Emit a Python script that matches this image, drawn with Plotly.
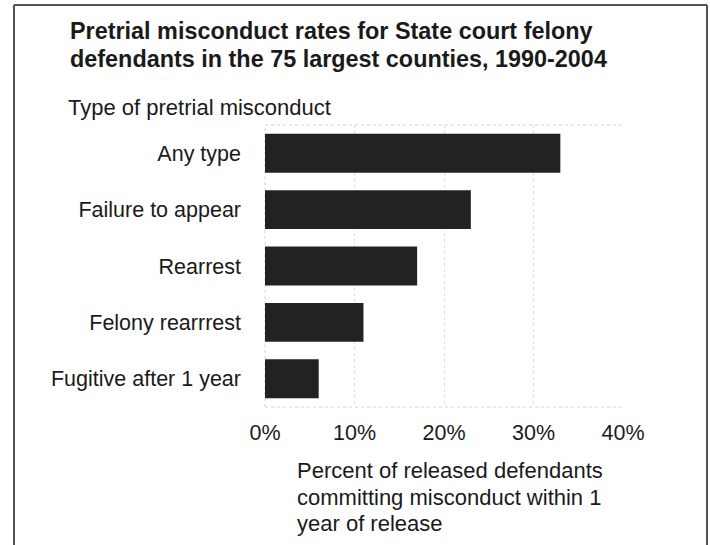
import plotly.graph_objects as go

categories = ["Any type", "Failure to appear", "Rearrest", "Felony rearrrest", "Fugitive after 1 year"]
values = [33, 23, 17, 11, 6]
tick_vals = [0, 10, 20, 30, 40]
tick_text = ["0%", "10%", "20%", "30%", "40%"]

# pixel layout helpers
W, H = 710, 545
L, R, T, B = 265, 623, 125, 407
def px(x):
    return (x - L) / (R - L)
def py(y):
    return (B - y) / (B - T)

FONT = "Liberation Sans, Arial, sans-serif"
TXT = "#1a1a1a"

fig = go.Figure(go.Bar(
    x=values, y=categories, orientation="h",
    marker=dict(color="#222222", line=dict(width=0)),
    width=0.69,
))

frame = dict(color="#555555", width=2)
dot = dict(color="#d4d4d4", width=1, dash="dot")
shapes = [
    # outer frame (left, top, right)
    dict(type="line", xref="paper", yref="paper", x0=px(14), x1=px(14), y0=py(560), y1=py(5), line=frame, layer="above"),
    dict(type="line", xref="paper", yref="paper", x0=px(14), x1=px(707), y0=py(5), y1=py(5), line=frame, layer="above"),
    dict(type="line", xref="paper", yref="paper", x0=px(707), x1=px(707), y0=py(560), y1=py(5), line=frame, layer="above"),
    # dotted plot border top/bottom/left
    dict(type="line", xref="paper", yref="paper", x0=0, x1=1, y0=1, y1=1, line=dot, layer="below"),
    dict(type="line", xref="paper", yref="paper", x0=0, x1=1, y0=0, y1=0, line=dot, layer="below"),
    dict(type="line", xref="paper", yref="paper", x0=0, x1=0, y0=0, y1=1, line=dot, layer="below"),
]

annotations = [
    dict(text="<b>Pretrial misconduct rates for State court felony</b>", x=px(68), y=py(31),
         font=dict(size=23.4, color=TXT, family=FONT)),
    dict(text="<b>defendants in the 75 largest counties, 1990-2004</b>", x=px(68), y=py(59),
         font=dict(size=23.4, color=TXT, family=FONT)),
    dict(text="Type of pretrial misconduct", x=px(66), y=py(107),
         font=dict(size=22, color=TXT, family=FONT)),
    dict(text="Percent of released defendants", x=px(295), y=py(471),
         font=dict(size=22, color=TXT, family=FONT)),
    dict(text="committing misconduct within 1", x=px(295), y=py(497),
         font=dict(size=22, color=TXT, family=FONT)),
    dict(text="year of release", x=px(295), y=py(523),
         font=dict(size=22, color=TXT, family=FONT)),
]
for a in annotations:
    a.update(xref="paper", yref="paper", xanchor="left", yanchor="middle", showarrow=False)

fig.update_layout(
    width=W, height=H,
    margin=dict(l=L, r=W - R, t=T, b=H - B, pad=0),
    paper_bgcolor="white", plot_bgcolor="white",
    showlegend=False,
    shapes=shapes,
    annotations=annotations,
    font=dict(family=FONT, size=21.5, color=TXT),
    xaxis=dict(range=[0, 40], tickvals=tick_vals, ticktext=tick_text,
               showgrid=True, gridcolor="#dedede", griddash="dot", gridwidth=1,
               zeroline=False, showline=False, ticks="", ticklabelstandoff=10,
               tickfont=dict(size=21.5, color=TXT, family=FONT), fixedrange=True),
    yaxis=dict(autorange="reversed", showgrid=False, zeroline=False, showline=False,
               ticks="", ticklabelstandoff=23,
               tickfont=dict(size=21.5, color=TXT, family=FONT), fixedrange=True),
)

fig.write_html("out.html", config={"displayModeBar": False},
               post_script="document.body.style.margin='0';document.body.style.padding='0';document.body.style.overflow='hidden';")
